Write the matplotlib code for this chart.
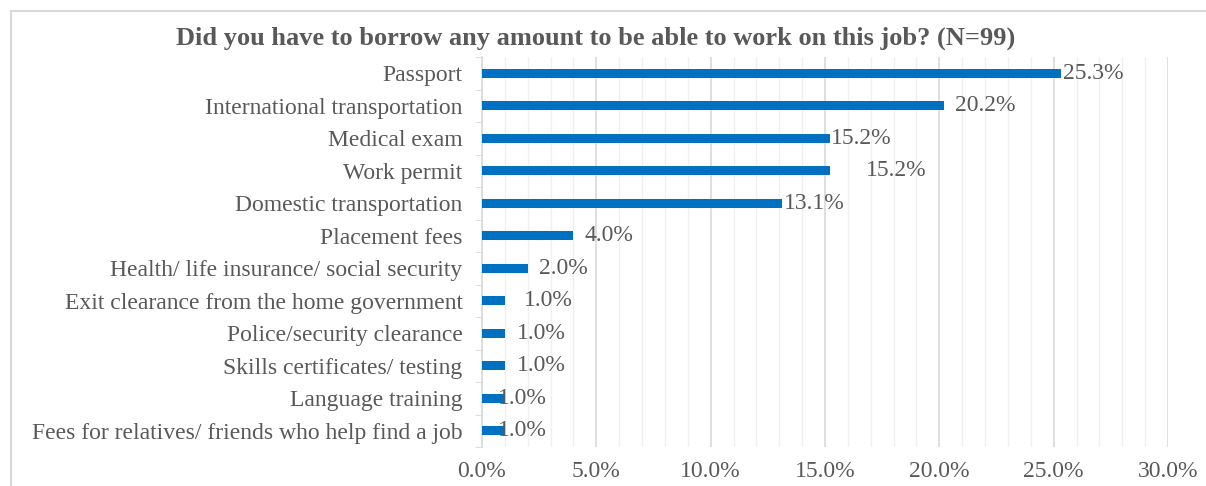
import numpy as np
import matplotlib.pyplot as plt
from matplotlib.lines import Line2D
from matplotlib.ticker import MultipleLocator, FuncFormatter

categories = [
    "Passport",
    "International transportation",
    "Medical exam",
    "Work permit",
    "Domestic transportation",
    "Placement fees",
    "Health/ life insurance/ social security",
    "Exit clearance from the home government",
    "Police/security clearance",
    "Skills certificates/ testing",
    "Language training",
    "Fees for relatives/ friends who help find a job",
]
values = [25.3, 20.2, 15.2, 15.2, 13.1, 4.0, 2.0, 1.0, 1.0, 1.0, 1.0, 1.0]
# label offsets (points) to mimic the placement in the original
label_dx = [2, 8, 1, 26, 2, 8, 8, 14, 9, 9, -5, -5]

plt.rcParams['font.family'] = ['Liberation Serif', 'DejaVu Serif']
text_col = "#595959"
bar_col = "#0070C0"
fs = 17

fig = plt.figure(figsize=(12.06, 4.86), dpi=100)
ax = fig.add_axes([482/1206, 1 - 447/486, (1168-482)/1206, (447-57)/486])

y = np.arange(len(categories))
ax.barh(y, values, height=0.28, color=bar_col, zorder=3)

for yi, v, dx in zip(y, values, label_dx):
    ax.annotate(f"{v:.1f}%", (v, yi), xytext=(dx, 0), textcoords="offset points",
                va="center", ha="left", fontsize=fs, color=text_col, zorder=4)

ax.set_xlim(0, 30)
ax.set_ylim(len(categories) - 0.5, -0.5)
ax.xaxis.set_major_locator(MultipleLocator(5))
ax.xaxis.set_minor_locator(MultipleLocator(1))
ax.xaxis.set_major_formatter(FuncFormatter(lambda x, p: f"{x:.1f}%"))
ax.grid(axis="x", which="major", color="#D9D9D9", linewidth=1.2, zorder=0)
ax.grid(axis="x", which="minor", color="#F0F0F0", linewidth=1.0, zorder=0)

ax.set_yticks(y)
ax.set_yticklabels(categories)
ax.set_yticks(np.arange(len(categories) + 1) - 0.5, minor=True)
ax.tick_params(axis="y", which="major", length=0, pad=14, labelsize=fs, labelcolor=text_col)
ax.tick_params(axis="y", which="minor", length=5, color="#D9D9D9", direction="out")
ax.tick_params(axis="x", which="both", length=0, pad=10, labelsize=fs, labelcolor=text_col)

for s in ["top", "right", "bottom"]:
    ax.spines[s].set_visible(False)
ax.spines["left"].set_color("#D9D9D9")
ax.spines["left"].set_linewidth(1.2)

fig.text(596/1206, 1 - 38/486,
         "Did you have to borrow any amount to be able to work on this job? (N=99)",
         fontsize=19, fontweight="bold", color=text_col, ha="center", va="center")

# outer chart border (cropped at right and bottom)
fig.add_artist(Line2D([11/1206, 11/1206], [0, 1 - 11/486], color="#D9D9D9", lw=1.5))
fig.add_artist(Line2D([11/1206, 1], [1 - 11/486, 1 - 11/486], color="#D9D9D9", lw=1.5))

plt.savefig("out.png", dpi=100)
